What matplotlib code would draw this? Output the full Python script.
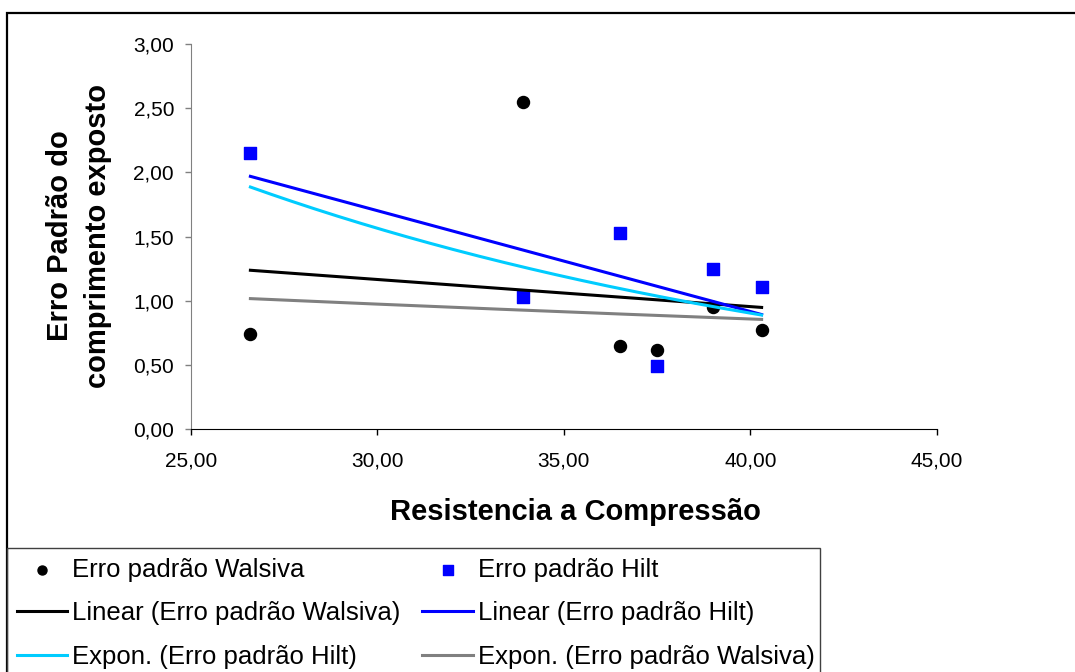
import numpy as np
import matplotlib.pyplot as plt
from matplotlib.patches import Rectangle
from matplotlib.ticker import FuncFormatter, MultipleLocator

plt.rcParams['font.family'] = ['Liberation Sans', 'DejaVu Sans']

# data
resistencia = [26.6, 33.9, 36.5, 37.5, 39.0, 40.3]
erro_walsiva = [0.74, 2.55, 0.65, 0.62, 0.955, 0.77]
erro_hilt = [2.15, 1.03, 1.53, 0.49, 1.25, 1.11]

W, H = 1075, 672
fig = plt.figure(figsize=(W / 100, H / 100), dpi=100)
ax = fig.add_axes([190.7 / W, 1 - 429.3 / H, (937 - 190.7) / W, (429.3 - 44) / H])

x = np.array(resistencia)
yw = np.array(erro_walsiva)
yh = np.array(erro_hilt)

ax.scatter(x, yw, s=75, marker='o', color='black', zorder=2, label='Erro padrão Walsiva')
ax.scatter(x, yh, s=75, marker='s', color='#0000FF', zorder=2, label='Erro padrão Hilt')

# trendlines as Excel computes them (least squares, exp fit on log y)
xx = np.linspace(x.min(), x.max(), 200)
lin_w = np.polyfit(x, yw, 1)
lin_h = np.polyfit(x, yh, 1)
exp_w = np.polyfit(x, np.log(yw), 1)
exp_h = np.polyfit(x, np.log(yh), 1)

l1, = ax.plot(xx, np.polyval(lin_w, xx), color='black', lw=2.2, zorder=3,
              label='Linear (Erro padrão Walsiva)')
l2, = ax.plot(xx, np.polyval(lin_h, xx), color='#0000FF', lw=2.2, zorder=3,
              label='Linear (Erro padrão Hilt)')
l3, = ax.plot(xx, np.exp(np.polyval(exp_h, xx)), color='#00CCFF', lw=2.2, zorder=3,
              label='Expon. (Erro padrão Hilt)')
l4, = ax.plot(xx, np.exp(np.polyval(exp_w, xx)), color='#808080', lw=2.2, zorder=3,
              label='Expon. (Erro padrão Walsiva)')

ax.set_xlim(25, 45)
ax.set_ylim(0, 3)
ax.xaxis.set_major_locator(MultipleLocator(5))
ax.yaxis.set_major_locator(MultipleLocator(0.5))
fmt = FuncFormatter(lambda v, p: f"{v:.2f}".replace('.', ','))
ax.xaxis.set_major_formatter(fmt)
ax.yaxis.set_major_formatter(fmt)

for s in ('top', 'right'):
    ax.spines[s].set_visible(False)
ax.spines['left'].set_color('#808080')
ax.spines['bottom'].set_color('black')
ax.tick_params(axis='x', length=4, width=1, color='black', labelsize=15, pad=12)
ax.tick_params(axis='y', length=4, width=1, color='#808080', labelsize=15, pad=8)

fig.text(575 / W, 1 - 512 / H, 'Resistencia a Compressão', ha='center', va='center',
         fontsize=21, fontweight='bold')
fig.text(79 / W, 1 - 236 / H, 'Erro Padrão do\ncomprimento exposto', ha='center', va='center',
         rotation=90, fontsize=21, fontweight='bold', linespacing=1.45)

# chart border and legend box
fig.patches.append(Rectangle((7.3 / W, -0.05), 1.1, 1 - 12.7 / H + 0.05,
                             transform=fig.transFigure, fill=False, ec='black', lw=1.6))
fig.patches.append(Rectangle((7.3 / W, -0.05), (820 - 7.3) / W, 1 - 548 / H + 0.05,
                             transform=fig.transFigure, fill=False, ec='#404040', lw=1.0))

h = ax.get_legend_handles_labels()[0]
order = [h[0], l1, l3, h[1], l2, l4]
fig.legend(order, [o.get_label() for o in order], ncol=2, loc='upper left',
           bbox_to_anchor=(17 / W, 1 - 558 / H), frameon=False, borderpad=0,
           borderaxespad=0, fontsize=18.5, handlelength=1.95, handletextpad=0.2,
           columnspacing=0.85, labelspacing=0.75, markerscale=0.75)

fig.savefig('out.png', dpi=100)
